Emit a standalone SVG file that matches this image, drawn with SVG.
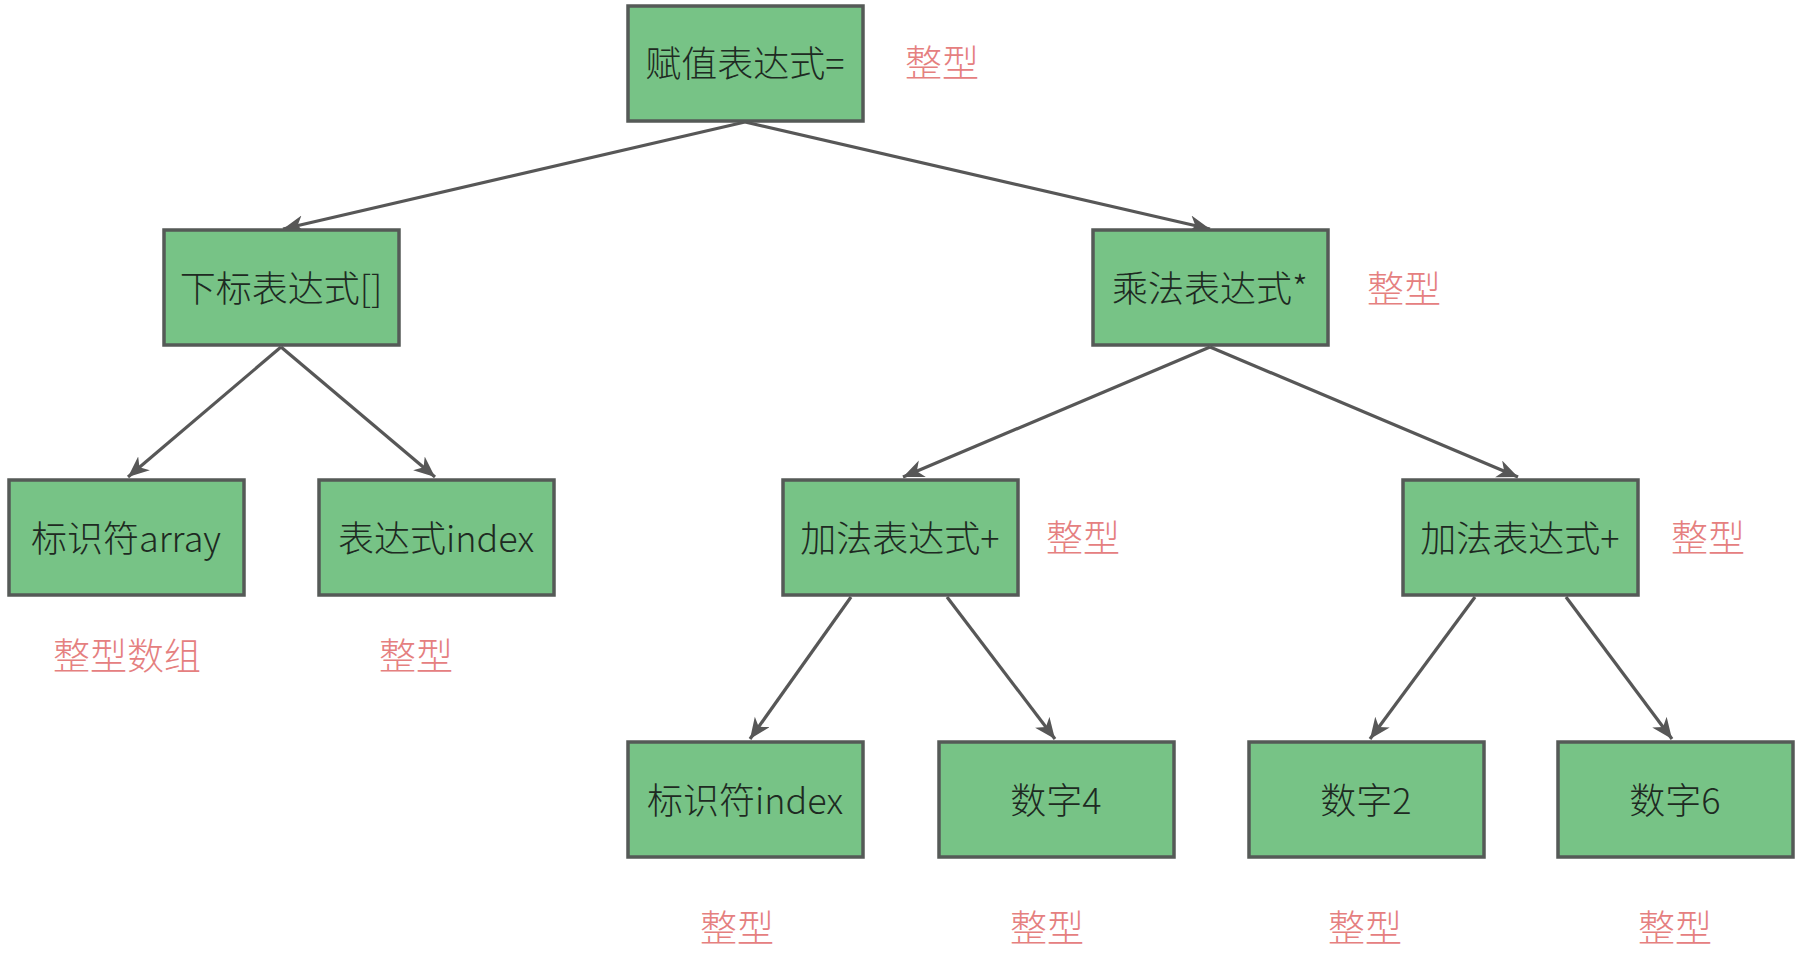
<svg xmlns="http://www.w3.org/2000/svg" width="1806" height="971" viewBox="0 0 1806 971">
<style>
.box{fill:#77c386;stroke:#555a57;stroke-width:3.5}
.t{font-family:"Noto Sans CJK SC","Liberation Sans",sans-serif;font-size:36px;font-weight:300;fill:#1e2a22;text-anchor:middle;dominant-baseline:central}
.lab{font-family:"Noto Sans CJK SC","Liberation Sans",sans-serif;font-size:37px;font-weight:300;fill:#e5807f;text-anchor:middle;dominant-baseline:central}
.c{stroke:#575757;stroke-width:3.2;fill:none;marker-end:url(#ah)}
</style>
<defs>
<marker id="ah" markerUnits="userSpaceOnUse" markerWidth="24" markerHeight="20" refX="21" refY="9" orient="auto">
<path d="M0,0 L21,9 L0,18 L6,9 z" fill="#575757"/>
</marker>
</defs>
<rect width="1806" height="971" fill="#fff"/>
<g id="connectors">
<line class="c" x1="745" y1="122" x2="283" y2="229"/>
<line class="c" x1="745" y1="122" x2="1210" y2="229"/>
<line class="c" x1="281" y1="347" x2="128" y2="477"/>
<line class="c" x1="281" y1="347" x2="435" y2="477"/>
<line class="c" x1="1210" y1="347" x2="903" y2="477"/>
<line class="c" x1="1210" y1="347" x2="1518" y2="477"/>
<line class="c" x1="851" y1="597" x2="750" y2="739"/>
<line class="c" x1="947" y1="597" x2="1055" y2="739"/>
<line class="c" x1="1475" y1="597" x2="1370" y2="739"/>
<line class="c" x1="1566" y1="597" x2="1672" y2="739"/>
</g>
<g id="n_assign"><rect class="box" x="628" y="6" width="235" height="115"/><text class="t" x="745" y="61">赋值表达式=</text></g>
<g id="n_index_expr"><rect class="box" x="164" y="230" width="235" height="115"/><text class="t" x="281" y="286">下标表达式[]</text></g>
<g id="n_mul"><rect class="box" x="1093" y="230" width="235" height="115"/><text class="t" x="1210" y="286">乘法表达式*</text></g>
<g id="n_array"><rect class="box" x="9" y="480" width="235" height="115"/><text class="t" x="126" y="536">标识符array</text></g>
<g id="n_expr_index"><rect class="box" x="319" y="480" width="235" height="115"/><text class="t" x="436" y="536">表达式index</text></g>
<g id="n_add1"><rect class="box" x="783" y="480" width="235" height="115"/><text class="t" x="900" y="536">加法表达式+</text></g>
<g id="n_add2"><rect class="box" x="1403" y="480" width="235" height="115"/><text class="t" x="1520" y="536">加法表达式+</text></g>
<g id="n_id_index"><rect class="box" x="628" y="742" width="235" height="115"/><text class="t" x="745" y="798">标识符index</text></g>
<g id="n_num4"><rect class="box" x="939" y="742" width="235" height="115"/><text class="t" x="1056" y="798">数字4</text></g>
<g id="n_num2"><rect class="box" x="1249" y="742" width="235" height="115"/><text class="t" x="1366" y="798">数字2</text></g>
<g id="n_num6"><rect class="box" x="1558" y="742" width="235" height="115"/><text class="t" x="1675" y="798">数字6</text></g>
<g id="labels">
<text class="lab" x="942" y="61">整型</text>
<text class="lab" x="1404" y="287">整型</text>
<text class="lab" x="1083" y="536">整型</text>
<text class="lab" x="1708" y="536">整型</text>
<text class="lab" x="127" y="654">整型数组</text>
<text class="lab" x="416" y="654">整型</text>
<text class="lab" x="737" y="926">整型</text>
<text class="lab" x="1047" y="926">整型</text>
<text class="lab" x="1365" y="926">整型</text>
<text class="lab" x="1675" y="926">整型</text>
</g>
</svg>
